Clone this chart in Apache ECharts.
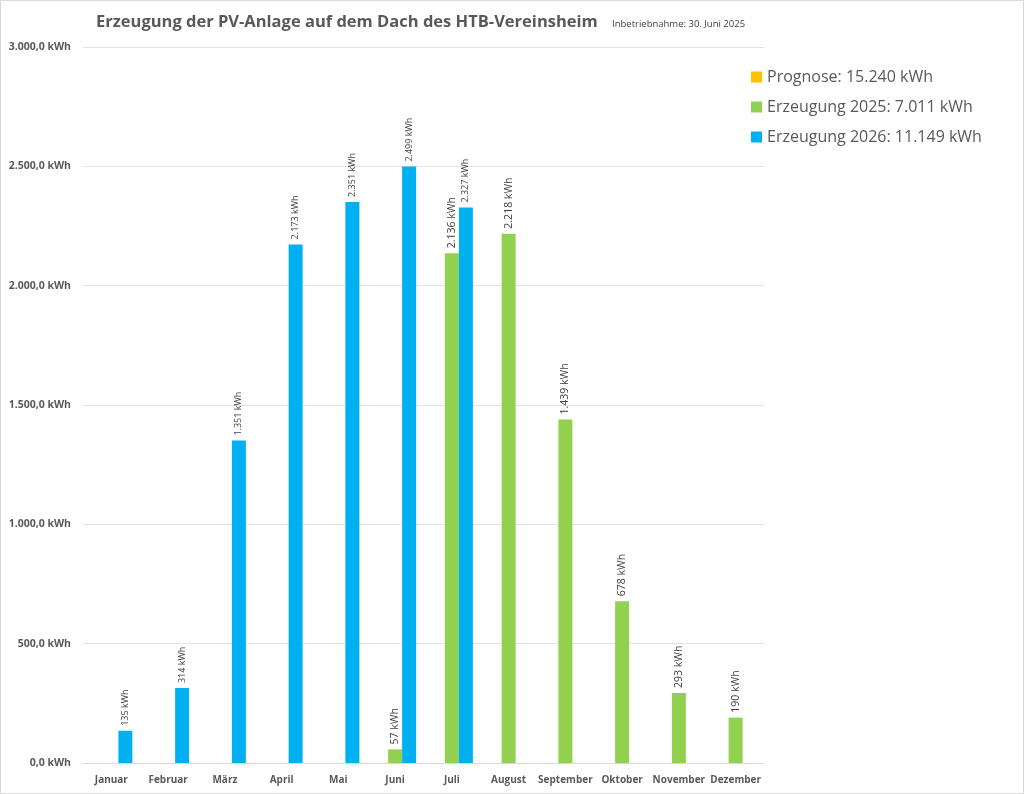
<!DOCTYPE html>
<html>
<head>
<meta charset="utf-8">
<script src="https://cdn.jsdelivr.net/npm/echarts@6/dist/echarts.min.js"></script>
<style>
  html, body { margin: 0; padding: 0; background: #fff; }
  #chart { width: 1024px; height: 794px; box-sizing: border-box; border: 1px solid #d9d9d9; }
</style>
</head>
<body>
<div id="chart"></div>
<script>
// Monatsnamen
var months = ['Januar', 'Februar', 'März', 'April', 'Mai', 'Juni', 'Juli', 'August', 'September', 'Oktober', 'November', 'Dezember'];
// Prognose hat keine sichtbaren Balken
var prognose = [null, null, null, null, null, null, null, null, null, null, null, null];
var erzeugung2025 = [null, null, null, null, null, 57, 2136, 2218, 1439, 678, 293, 190];
var erzeugung2026 = [135, 314, 1351, 2173, 2351, 2499, 2327, null, null, null, null, null];
var legendNames = ['Prognose: 15.240 kWh', 'Erzeugung 2025: 7.011 kWh', 'Erzeugung 2026: 11.149 kWh'];

var FONT = '"Open Sans", "Noto Sans", sans-serif';
var GRAY = '#595959';

// deutsche Tausendertrennung
function fmt(v, dec) {
	var parts = v.toFixed(dec).split('.');
	parts[0] = parts[0].replace(/\B(?=(\d{3})+(?!\d))/g, '.');
	return parts.join(',');
}

function labelOpt(size) {
	return {
		show: true,
		position: 'top',
		rotate: 90,
		align: 'left',
		verticalAlign: 'middle',
		distance: 5,
		fontFamily: FONT,
		fontSize: size,
		color: '#404040',
		formatter: function (p) { return fmt(p.value, 0) + ' kWh'; }
	};
}

var myChart = echarts.init(document.getElementById('chart'));
var option = {
	animation: false,
	textStyle: { fontFamily: FONT },
	title: [{
		text: 'Erzeugung der PV-Anlage auf dem Dach des HTB-Vereinsheim',
		left: 90,
		top: 8,
		textStyle: { fontFamily: FONT, fontSize: 16.5, fontWeight: 'bold', color: GRAY }
	}, {
		text: 'Inbetriebnahme: 30. Juni 2025',
		left: 606,
		top: 13,
		textStyle: { fontFamily: FONT, fontSize: 9.5, fontWeight: 'normal', color: '#404040' }
	}],
	legend: {
		orient: 'vertical',
		left: 745,
		top: 63,
		itemGap: 14,
		itemWidth: 11,
		itemHeight: 11,
		itemStyle: { borderWidth: 0 },
		icon: 'rect',
		data: legendNames,
		textStyle: { fontFamily: FONT, fontSize: 16, color: GRAY }
	},
	grid: { left: 82, right: 259, top: 46, bottom: 30, containLabel: false },
	xAxis: {
		type: 'category',
		data: months,
		axisLine: { lineStyle: { color: '#d9d9d9' } },
		axisTick: { show: false },
		axisLabel: { interval: 0, fontFamily: FONT, fontSize: 10, fontWeight: 'bold', color: GRAY, margin: 12 }
	},
	yAxis: {
		type: 'value',
		min: 0,
		max: 3000,
		interval: 500,
		axisLine: { show: false },
		axisTick: { show: false },
		splitLine: { lineStyle: { color: '#e3e3e3' } },
		axisLabel: {
			fontFamily: FONT, fontSize: 10.5, fontWeight: 'bold', color: GRAY, margin: 12,
			formatter: function (v) { return fmt(v, 1) + ' kWh'; }
		}
	},
	series: [{
		name: legendNames[0],
		type: 'bar',
		barWidth: 14,
		barGap: '0%',
		itemStyle: { color: '#FFC000' },
		data: prognose
	}, {
		name: legendNames[1],
		type: 'bar',
		barWidth: 14,
		barGap: '0%',
		itemStyle: { color: '#92D050' },
		label: labelOpt(10.5),
		data: erzeugung2025
	}, {
		name: legendNames[2],
		type: 'bar',
		barWidth: 14,
		barGap: '0%',
		itemStyle: { color: '#00B0F0' },
		label: labelOpt(9),
		data: erzeugung2026
	}]
};
myChart.setOption(option);
</script>
</body>
</html>
